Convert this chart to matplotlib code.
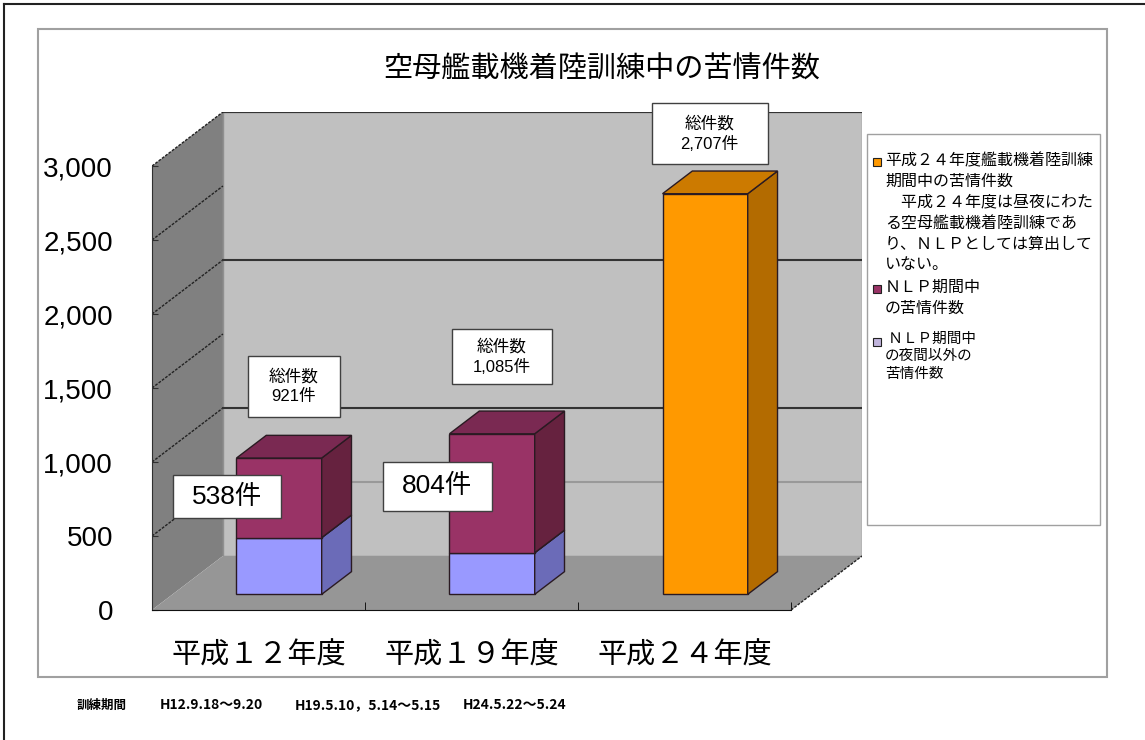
import matplotlib
matplotlib.use("Agg")
import matplotlib.pyplot as plt
from matplotlib import font_manager
from matplotlib import transforms
from matplotlib.patches import Polygon, Rectangle

# data
categories = ["平成１２年度", "平成１９年度", "平成２４年度"]
non_night = [383, 281, 0]      # NLP期間中の夜間以外の苦情件数
night = [538, 804, 0]          # NLP期間中の苦情件数
carrier = [0, 0, 2707]         # 平成24年度 艦載機着陸訓練期間中の苦情件数
totals = [921, 1085, 2707]
yticks = [0, 500, 1000, 1500, 2000, 2500, 3000]
periods = ["H12.9.18～9.20", "H19.5.10，5.14～5.15", "H24.5.22～5.24"]
legend_labels = [
    "平成２４年度艦載機着陸訓練\n期間中の苦情件数\n　平成２４年度は昼夜にわた\nる空母艦載機着陸訓練であ\nり、ＮＬＰとしては算出して\nいない。",
    "ＮＬＰ期間中\nの苦情件数",
    " ＮＬＰ期間中\nの夜間以外の\n苦情件数",
]

JP = ["Noto Sans CJK JP", "DejaVu Sans"]
NUM = ["Liberation Sans", "Noto Sans CJK JP"]
installed = {f.name for f in font_manager.fontManager.ttflist}
if "Liberation Sans Narrow" in installed:
    NARROW, nfs = ["Liberation Sans Narrow", "Noto Sans CJK JP"], 12
else:
    NARROW, nfs = JP, 10

# pseudo 3d geometry (depth vector in data units)
DX, DY = 0.333, 365
YMAX = 3000
F0, F1 = 0.29, 0.71   # bar depth range
HW = 0.2              # bar half width

fig = plt.figure(figsize=(11.45, 7.40), dpi=100)
ax = fig.add_axes([152 / 1145, 130 / 740, 710 / 1145, 498 / 740])
ax.set_xlim(0, 3 + DX)
ax.set_ylim(0, YMAX + DY)

# walls
ax.add_patch(Polygon([(DX, DY), (3 + DX, DY), (3 + DX, YMAX + DY), (DX, YMAX + DY)],
                     facecolor="#c0c0c0", edgecolor="#909090", lw=1, zorder=0))
ax.add_patch(Polygon([(0, 0), (DX, DY), (DX, YMAX + DY), (0, YMAX)],
                     facecolor="#808080", edgecolor="none", zorder=1))
ax.add_patch(Polygon([(0, 0), (3, 0), (3 + DX, DY), (DX, DY)],
                     facecolor="#969696", edgecolor="none", zorder=1))
ax.plot([3, 3 + DX], [0, DY], color="#222222", lw=1, ls=(0, (2, 1)), zorder=2)
ax.plot([DX, 3 + DX], [YMAX + DY, YMAX + DY], color="#333333", lw=1.5, zorder=2)

# gridlines
for v in yticks[1:]:
    ax.plot([0, DX], [v, v + DY], color="#222222", lw=1, ls=(0, (2, 1)), zorder=2)
for v, c in [(500, "#999999"), (1000, "#333333"), (2000, "#333333")]:
    ax.plot([DX, 3 + DX], [v + DY, v + DY], color=c, lw=1.5, zorder=2)


def box(i, y0, y1, front, side, top):
    c = i + 0.5
    xa, xb = c - HW, c + HW
    ox0, oy0 = F0 * DX, F0 * DY
    ox1, oy1 = F1 * DX, F1 * DY
    ec = "#2a1a22"
    ax.add_patch(Polygon([(xa + ox0, y0 + oy0), (xb + ox0, y0 + oy0),
                          (xb + ox0, y1 + oy0), (xa + ox0, y1 + oy0)],
                         facecolor=front, edgecolor=ec, lw=1, zorder=5))
    ax.add_patch(Polygon([(xb + ox0, y0 + oy0), (xb + ox1, y0 + oy1),
                          (xb + ox1, y1 + oy1), (xb + ox0, y1 + oy0)],
                         facecolor=side, edgecolor=ec, lw=1, zorder=5))
    ax.add_patch(Polygon([(xa + ox0, y1 + oy0), (xb + ox0, y1 + oy0),
                          (xb + ox1, y1 + oy1), (xa + ox1, y1 + oy1)],
                         facecolor=top, edgecolor=ec, lw=1, zorder=5))


for i in range(len(categories)):
    if non_night[i]:
        box(i, 0, non_night[i], "#9999ff", "#6b6bb8", "#7a7acc")
    if night[i]:
        box(i, non_night[i], non_night[i] + night[i], "#993366", "#66223f", "#7a2952")
    if carrier[i]:
        box(i, 0, carrier[i], "#ff9900", "#b36b00", "#cc7a00")


def label_box(x, y, dx, dy, w, h, text, fs, ls=1.2):
    # box of w x h pixels centred dx, dy pixels away from data point (x, y)
    tr = fig.dpi_scale_trans + transforms.ScaledTranslation(x, y, ax.transData)
    d = fig.dpi
    ax.add_patch(Rectangle(((dx - w / 2) / d, (dy - h / 2) / d), w / d, h / d,
                           transform=tr, fc="white", ec="#404040", lw=1, zorder=8,
                           clip_on=False))
    ax.text(dx / d, dy / d, text, transform=tr, ha="center", va="center",
            fontsize=fs, family=NUM, linespacing=ls, zorder=9)


tot_dx = [35, 30, 25]
tot_dy = [72, 77, 60]
tot_w = [92, 100, 116]
tot_h = [61, 55, 61]
for i, t in enumerate(totals):
    c = i + 0.5
    label_box(c, t + F0 * DY, tot_dx[i], tot_dy[i], tot_w[i], tot_h[i],
              f"総件数\n{t:,}件", 12, 1.35)
    if night[i]:
        label_box(c - HW + F0 * DX, non_night[i] + night[i] / 2 + F0 * DY,
                  [-9, -12][i], [1, 7][i], [108, 109][i], [43, 49][i],
                  f"{night[i]}件", 19)

# axes
for s in ["top", "right"]:
    ax.spines[s].set_visible(False)
ax.spines["left"].set_bounds(0, YMAX)
ax.spines["left"].set_color("#303030")
ax.spines["bottom"].set_bounds(0, 3)
ax.spines["bottom"].set_color("#111111")
ax.set_yticks(yticks)
ax.set_yticklabels([f"{v:,}" for v in yticks], fontsize=20, family=NUM)
ax.tick_params(axis="y", direction="in", length=4, pad=28, colors="#303030", labelcolor="black")
ax.set_xticks([0.5, 1.5, 2.5])
ax.set_xticklabels(categories, fontsize=21, family=JP)
ax.set_xticks([0, 1, 2, 3], minor=True)
ax.tick_params(axis="x", which="major", length=0, pad=22)
ax.tick_params(axis="x", which="minor", direction="in", length=6)

# title
fig.text(602 / 1145, 1 - 70 / 740, "空母艦載機着陸訓練中の苦情件数", ha="center", va="center",
         fontsize=21, family=JP)

# legend
fig.patches.append(Rectangle((867 / 1145, 1 - 525 / 740), 233 / 1145, 391 / 740,
                             transform=fig.transFigure, fc="white", ec="#a0a0a0", lw=1))
leg_colors = ["#ff9900", "#993366", "#c0b4dc"]
leg_y = [162, 289, 342]
leg_size = [11.5, 11.5, 10.5]
for lab, col, y, fs in zip(legend_labels, leg_colors, leg_y, leg_size):
    fig.patches.append(Rectangle((873 / 1145, 1 - (y + 4) / 740), 8 / 1145, 8 / 740,
                                 transform=fig.transFigure, fc=col, ec="#222222", lw=0.8))
    fig.text(885 / 1145, 1 - (y - 10) / 740, lab, ha="left", va="top", fontsize=fs,
             family=JP, linespacing=1.3)

# frames
fig.patches.append(Rectangle((38 / 1145, 1 - 677 / 740), 1069 / 1145, 648 / 740,
                             transform=fig.transFigure, fc="none", ec="#a0a0a0", lw=1.5))
fig.add_artist(plt.Line2D([4 / 1145, 4 / 1145], [0, 1 - 4 / 740], color="#222222", lw=1.5))
fig.add_artist(plt.Line2D([4 / 1145, 1], [1 - 4 / 740, 1 - 4 / 740], color="#222222", lw=1.5))

# training periods
fig.text(77 / 1145, 1 - 705 / 740, "訓練期間", ha="left", va="center", fontsize=9,
         family=JP, weight="bold")
for x, p in zip([160, 295, 463], periods):
    fig.text(x / 1145, 1 - 705 / 740, p, ha="left", va="center", fontsize=nfs,
             family=NARROW, weight="bold")

fig.savefig("out.png", dpi=100)
